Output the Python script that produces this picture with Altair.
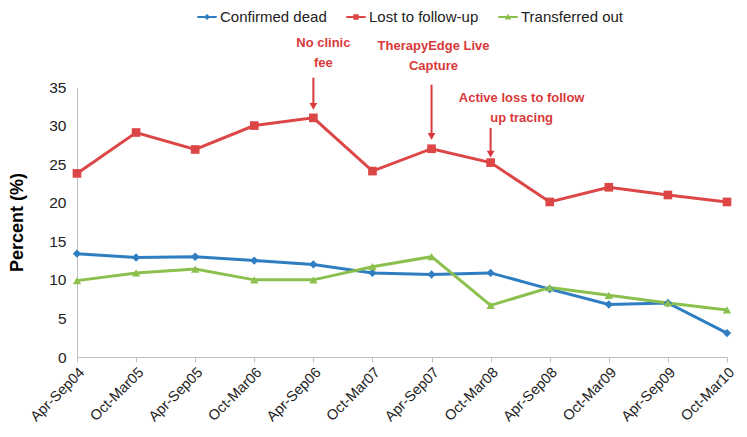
import altair as alt
import pandas as pd

periods = ["Apr-Sep04", "Oct-Mar05", "Apr-Sep05", "Oct-Mar06", "Apr-Sep06", "Oct-Mar07",
           "Apr-Sep07", "Oct-Mar08", "Apr-Sep08", "Oct-Mar09", "Apr-Sep09", "Oct-Mar10"]
series_names = ["Confirmed dead", "Lost to follow-up", "Transferred out"]
confirmed_dead = [13.4, 12.9, 13.0, 12.5, 12.0, 10.9, 10.7, 10.9, 8.8, 6.8, 7.0, 3.1]
lost_to_follow = [23.8, 29.1, 26.9, 30.0, 31.0, 24.1, 27.0, 25.2, 20.1, 22.0, 21.0, 20.1]
transferred_out = [9.9, 10.9, 11.4, 10.0, 10.0, 11.7, 13.0, 6.7, 9.0, 8.0, 7.0, 6.1]
y_ticks = [0, 5, 10, 15, 20, 25, 30, 35]
colors = ["#2f7ec1", "#dc4646", "#8cc04e"]
markers = ["diamond", "square", "triangle-up"]
legend_paths = [
    "M-1,-0.1L1,-0.1L1,0.1L-1,0.1Z M0,-0.32L0.32,0L0,0.32L-0.32,0Z",
    "M-1,-0.1L1,-0.1L1,0.1L-1,0.1Z M-0.28,-0.28L0.28,-0.28L0.28,0.28L-0.28,0.28Z",
    "M-1,-0.1L1,-0.1L1,0.1L-1,0.1Z M0,-0.34L0.34,0.26L-0.34,0.26Z",
]

# annotations (one entry per annotation)
ann_period = ["Apr-Sep06", "Apr-Sep07", "Oct-Mar08"]
ann_line1 = ["No clinic", "TherapyEdge Live", "Active loss to follow"]
ann_line2 = ["fee", "Capture", "up tracing"]
ann_y1 = [40.7, 40.3, 33.6]
ann_y2 = [38.1, 37.7, 31.0]
ann_dx = [10, 2, 31]
arrow_start = [36.2, 35.3, 29.7]
arrow_head = [32.5, 28.6, 26.3]

values = [confirmed_dead, lost_to_follow, transferred_out]
rows = []
for name, vals in zip(series_names, values):
    for p, v in zip(periods, vals):
        rows.append({"Period": p, "Value": v, "Series": name})
df = pd.DataFrame(rows)

arrow_df = pd.DataFrame({"Period": ann_period, "Y1": arrow_start, "Y2": arrow_head})

FONT = "Liberation Sans"
RED = "#d9393b"

x_scale = alt.Scale(type="point", domain=periods, padding=0)
x_axis = alt.Axis(title=None, labelAngle=-45, labelFontSize=14.5, labelFont=FONT,
                  labelColor="#222222", domainColor="#bfbfbf", tickColor="#bfbfbf",
                  tickSize=5, labelPadding=3, grid=False)
y_scale = alt.Scale(domain=[0, 35], nice=False, zero=True)
y_axis = alt.Axis(title="Percent (%)", values=y_ticks,
                  titleFontSize=18, titleFont=FONT, titleFontWeight="bold",
                  titleColor="#000000", titlePadding=22,
                  labelFontSize=15.5, labelFont=FONT, labelColor="#222222",
                  domainColor="#bfbfbf", ticks=False, labelPadding=11, grid=False,
                  labelOverlap=False)


def X(field="Period"):
    return alt.X(f"{field}:N", sort=periods, scale=x_scale, axis=x_axis)


def Y(field="Value"):
    return alt.Y(f"{field}:Q", scale=y_scale, axis=y_axis)


color_scale = alt.Scale(domain=series_names, range=colors)
legend = alt.Legend(title=None, orient="none", direction="horizontal",
                    legendX=120, legendY=-80, labelFont=FONT, labelFontSize=15,
                    labelColor="#222222", symbolSize=380, symbolStrokeWidth=0,
                    columnPadding=19, labelOffset=3)

base = alt.Chart(df)
lines = base.mark_line(strokeWidth=3).encode(
    x=X(), y=Y(),
    color=alt.Color("Series:N", scale=color_scale, legend=legend),
    detail="Series:N",
)

point_layers = []
for name, m in zip(series_names, markers):
    point_layers.append(
        base.transform_filter(alt.datum.Series == name).mark_point(
            shape=m, filled=True, opacity=1, size=70 if m != "square" else 75).encode(
            x=X(), y=Y(),
            color=alt.Color("Series:N", scale=color_scale, legend=legend))
    )

legend_layer = base.transform_filter("false").mark_point(filled=True, opacity=1).encode(
    x=X(), y=Y(),
    color=alt.Color("Series:N", scale=color_scale, legend=legend),
    shape=alt.Shape("Series:N", scale=alt.Scale(domain=series_names, range=legend_paths),
                    legend=legend),
)

ann_layers = []
for p, t1, t2, y1, y2, dx in zip(ann_period, ann_line1, ann_line2, ann_y1, ann_y2, ann_dx):
    adf = pd.DataFrame({"Period": [p, p], "Text": [t1, t2], "Y": [y1, y2]})
    ann_layers.append(
        alt.Chart(adf).mark_text(font=FONT, fontSize=13, fontWeight="bold", color=RED,
                                 baseline="middle", dx=dx).encode(
            x=X(), y=Y("Y"), text="Text:N")
    )

arrows = alt.Chart(arrow_df).mark_rule(color=RED, strokeWidth=2).encode(
    x=X(), y=Y("Y1"), y2="Y2:Q")
heads = alt.Chart(arrow_df).mark_point(shape="triangle-down", filled=True, opacity=1,
                                       color=RED, size=60).encode(
    x=X(), y=Y("Y2"))

chart = alt.layer(lines, *point_layers, legend_layer, *ann_layers, arrows, heads).properties(
    width=650, height=270, background="white",
    autosize=alt.AutoSizeParams(type="none"),
    padding={"left": 69, "top": 79, "right": 12, "bottom": 72},
).configure_view(stroke=None).configure_scale(pointPadding=0)

chart.save("out.html", embed_options={"renderer": "svg", "actions": False})
